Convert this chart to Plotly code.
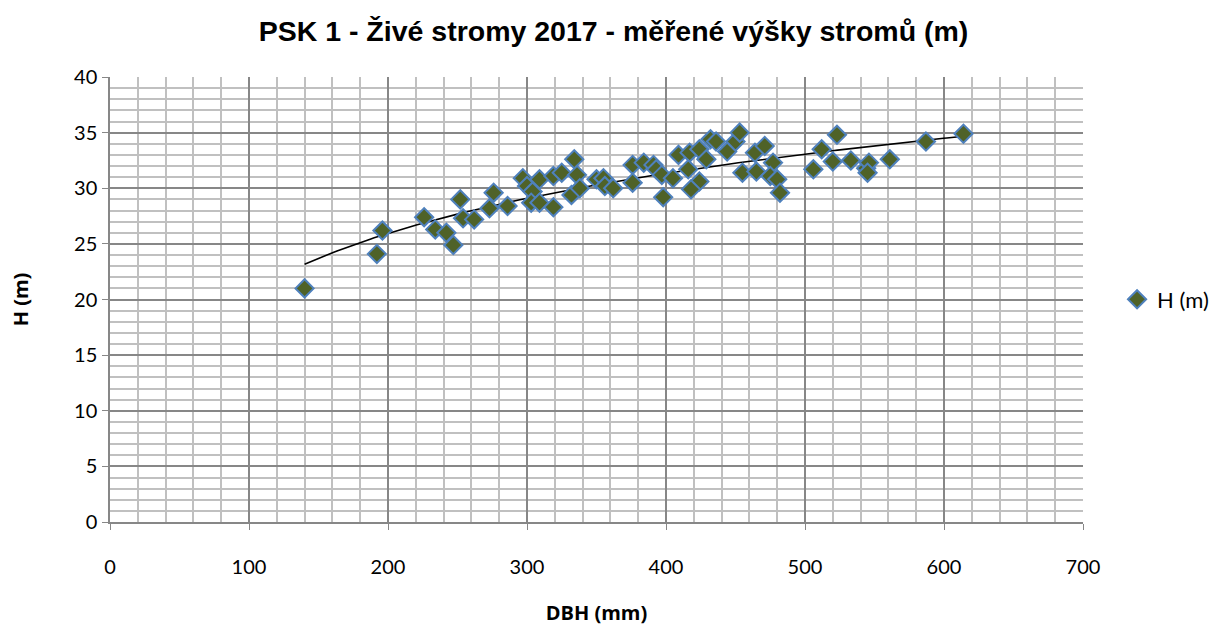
import numpy as np
import plotly.graph_objects as go

dbh = [140, 192, 196, 226, 234, 242, 247, 252, 254, 262, 273, 276, 286,
       297, 300, 304, 303, 309, 309, 319, 319, 325, 334, 336, 332, 338,
       350, 355, 356, 362, 376, 384, 376, 391, 393, 397, 398, 405, 409,
       417, 416, 424, 429, 424, 418, 432, 436, 444, 450, 453, 455, 464,
       465, 471, 477, 475, 480, 482, 506, 512, 520, 523, 533, 544, 546,
       545, 561, 587, 614]
height = [21.0, 24.1, 26.2, 27.4, 26.3, 26.0, 24.9, 29.0, 27.3, 27.2, 28.2,
          29.6, 28.4, 30.9, 30.2, 29.7, 28.7, 30.8, 28.7, 28.3, 31.1, 31.4,
          32.6, 31.2, 29.4, 30.0, 30.8, 30.9, 30.2, 30.0, 32.1, 32.3, 30.5,
          32.1, 31.7, 31.2, 29.2, 30.9, 33.0, 33.2, 31.7, 33.5, 32.6, 30.6,
          29.9, 34.4, 34.2, 33.3, 34.2, 35.0, 31.4, 33.2, 31.5, 33.8, 32.3,
          31.1, 30.8, 29.6, 31.7, 33.5, 32.4, 34.8, 32.5, 31.8, 32.3, 31.4,
          32.6, 34.2, 34.9]

x_ticks = [0, 100, 200, 300, 400, 500, 600, 700]
y_ticks = [0, 5, 10, 15, 20, 25, 30, 35, 40]

# logarithmic trendline fitted to the data
xa = np.array(dbh, dtype=float)
ya = np.array(height, dtype=float)
a, b = np.polyfit(np.log(xa), ya, 1)
xt = np.linspace(xa.min(), xa.max(), 200)
yt = a * np.log(xt) + b

fig = go.Figure()
fig.add_trace(go.Scatter(
    x=xt, y=yt, mode="lines", line=dict(color="black", width=1.6),
    showlegend=False, hoverinfo="skip"))
fig.add_trace(go.Scatter(
    x=dbh, y=height, mode="markers", name="H (m)",
    marker=dict(symbol="diamond", size=14, color="#4F6228",
                line=dict(color="#4F81BD", width=2))))

tick_font = dict(family="Lato, Calibri, sans-serif", size=20, color="black")
title_font = dict(family="Open Sans, sans-serif", size=20, color="black")

fig.update_layout(
    width=1227, height=628,
    paper_bgcolor="white", plot_bgcolor="white",
    margin=dict(l=110, r=144, t=77, b=106, autoexpand=False),
    title=dict(text="<b>PSK 1 - Živé stromy 2017 - měřené výšky stromů (m)</b>",
               x=0.5, xanchor="center", y=0.95, yanchor="middle",
               font=dict(family="Liberation Sans, Arial, sans-serif", size=28.5, color="black")),
    legend=dict(x=1.035, y=0.5, xanchor="left", yanchor="middle",
                font=dict(family="Lato, Calibri, sans-serif", size=22, color="black"),
                bgcolor="rgba(0,0,0,0)", itemwidth=30),
    xaxis=dict(
        range=[0, 700], tickvals=x_ticks, ticktext=[str(v) for v in x_ticks],
        showgrid=True, gridcolor="#878787", gridwidth=1.5,
        minor=dict(dtick=20, showgrid=True, gridcolor="#C0C0C0", gridwidth=1.5, ticks=""),
        showline=True, linecolor="#878787", linewidth=1.5,
        ticks="outside", ticklen=6, tickcolor="#878787", automargin=False,
        ticklabelstandoff=20, tickfont=tick_font, zeroline=False,
        title=dict(text="<b>DBH (mm)</b>", font=title_font, standoff=29)),
    yaxis=dict(
        range=[0, 40], tickvals=y_ticks, ticktext=[str(v) for v in y_ticks],
        showgrid=True, gridcolor="#878787", gridwidth=1.5,
        minor=dict(dtick=1, showgrid=True, gridcolor="#C0C0C0", gridwidth=1.5, ticks=""),
        showline=True, linecolor="#878787", linewidth=1.5,
        ticks="outside", ticklen=6, tickcolor="#878787", automargin=False,
        ticklabelstandoff=1, tickfont=tick_font, zeroline=False,
        title=dict(text="<b>H (m)</b>", font=title_font, standoff=40)),
)

fig.write_html("out.html", config={"displayModeBar": False},
               post_script="document.body.style.margin='0';")
